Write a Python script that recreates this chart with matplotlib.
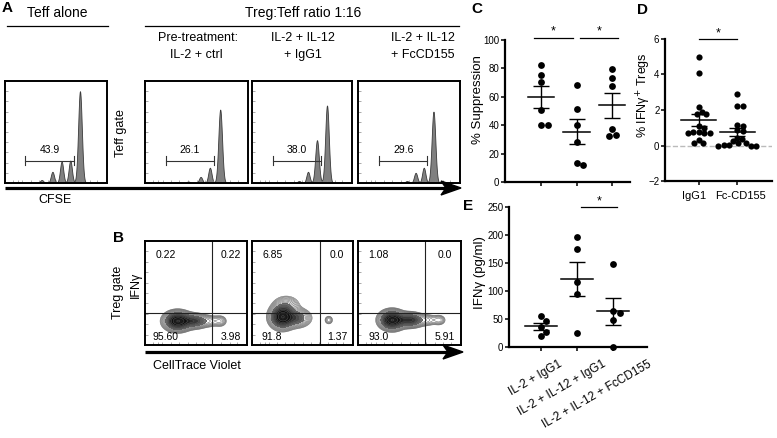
import numpy as np
import matplotlib
matplotlib.use("Agg")
import matplotlib.pyplot as plt
from matplotlib.patches import Polygon
from matplotlib.colors import LinearSegmentedColormap

plt.rcParams['font.family'] = ['Liberation Sans', 'DejaVu Sans']

W, H = 777, 438

# ---- panel A: CFSE histograms (peak position / height as fraction of the box)
hist_gate_pct = ["43.9", "26.1", "38.0", "29.6"]
hist_peak_pos = [[0.735, 0.64, 0.555, 0.465, 0.36],
                 [0.73, 0.63, 0.54, 0.42, 0.30],
                 [0.75, 0.65, 0.56, 0.47],
                 [0.74, 0.645, 0.565, 0.48]]
hist_peak_height = [[0.90, 0.22, 0.21, 0.11, 0.03],
                     [0.72, 0.15, 0.06, 0.015, 0.01],
                     [0.76, 0.42, 0.11, 0.02],
                     [0.70, 0.15, 0.10, 0.02]]
hist_gate = [(0.20, 0.68), (0.20, 0.67), (0.21, 0.69), (0.21, 0.68)]

# ---- panel B: Treg IFNg vs CellTrace Violet contour plots
quad_labels = [["0.22", "0.22", "95.60", "3.98"],
               ["6.85", "0.0", "91.8", "1.37"],
               ["1.08", "0.0", "93.0", "5.91"]]
quad_xcut = [0.66, 0.67, 0.65]
quad_ycut = 0.31
# blobs: (x centre, y centre, x spread, y spread, amplitude)
blob_params = [
    [(0.32, 0.23, 0.065, 0.045, 1.0), (0.48, 0.23, 0.07, 0.035, 0.45), (0.64, 0.23, 0.06, 0.03, 0.12),
     (0.74, 0.23, 0.035, 0.03, 0.1)],
    [(0.30, 0.27, 0.06, 0.055, 1.0), (0.44, 0.26, 0.07, 0.045, 0.35), (0.34, 0.38, 0.07, 0.05, 0.15),
     (0.76, 0.24, 0.025, 0.025, 0.09)],
    [(0.33, 0.24, 0.06, 0.045, 1.0), (0.50, 0.24, 0.07, 0.035, 0.55), (0.67, 0.24, 0.06, 0.03, 0.12),
     (0.79, 0.24, 0.035, 0.028, 0.1)],
]

# ---- panel C: % suppression
supp_il2_ctrl = [82.4, 75.3, 70.1, 50.6, 40.0, 40.0]
supp_il12_igg1 = [68.2, 51.3, 40.0, 28.2, 13.6, 11.8]
supp_il12_fccd155 = [79.3, 73.4, 67.5, 37.6, 33.4, 32.2]

# ---- panel D: % IFNg+ Tregs
ifng_tregs_igg1 = [5.0, 4.1, 2.15, 1.9, 1.8, 1.75, 1.1, 1.0, 0.75, 0.75, 0.7, 0.7, 0.7, 0.3, 0.15, 0.15]
ifng_tregs_fccd155 = [2.9, 2.2, 2.2, 1.15, 1.1, 0.85, 0.8, 0.45, 0.35, 0.25, 0.15, 0.15, 0.05, 0.05, 0.0, 0.0, 0.0]
d_labels = ["IgG1", "Fc-CD155"]

# ---- panel E: IFNg pg/ml
ifng_il2_igg1 = [55.7, 46.8, 35.5, 26.7, 19.0]
ifng_il12_igg1 = [196.7, 174.8, 115.5, 94.2, 24.9]
ifng_il12_fccd155 = [147.5, 63.4, 60.4, 47.4, 0.0]
e_labels = ["IL-2 + IgG1", "IL-2 + IL-12 + IgG1", "IL-2 + IL-12 + FcCD155"]

fig = plt.figure(figsize=(W / 100, H / 100), dpi=100)


def box(l, t, r, b):
    return fig.add_axes([l / W, 1 - b / H, (r - l) / W, (b - t) / H])


def frame(ax):
    ax.set_xlim(0, 1)
    ax.set_ylim(0, 1)
    for s in ax.spines.values():
        s.set_linewidth(1.4)
    ax.set_yticks(np.linspace(0.1, 0.9, 9))
    ax.set_xticks([0.08, 0.13, 0.17, 0.25, 0.33, 0.42, 0.5, 0.58, 0.66, 0.75, 0.83, 0.9])
    ax.tick_params(direction='in', length=2, width=0.5, color='#888888',
                   labelbottom=False, labelleft=False)


# histograms
hist_boxes = [(5, 81, 107, 183), (145, 81, 248, 183), (252, 81, 352, 183), (358, 81, 460, 183)]
xs = np.linspace(0, 1, 600)
for k, (l, t, r, b) in enumerate(hist_boxes):
    ax = box(l, t, r, b)
    frame(ax)
    y = np.zeros_like(xs)
    for p, h in zip(hist_peak_pos[k], hist_peak_height[k]):
        w = 0.018 if h > 0.3 else 0.016
        y += h * np.exp(-0.5 * ((xs - p) / w) ** 2)
    ax.fill_between(xs, 0, y, color='#808080', edgecolor='#3a3a3a', linewidth=0.6)
    g0, g1 = hist_gate[k]
    gy = 0.22
    ax.plot([g0, g1], [gy, gy], color='#333333', lw=0.8)
    ax.plot([g0, g0], [gy - 0.04, gy + 0.04], color='#333333', lw=0.8)
    ax.plot([g1, g1], [gy - 0.04, gy + 0.04], color='#333333', lw=0.8)
    ax.text((g0 + g1) / 2, gy + 0.05, hist_gate_pct[k], ha='center', va='bottom', fontsize=7.5)

# contour plots
core_cmap = LinearSegmentedColormap.from_list("core", ["#7a7a7a", "#333333", "#0e0e0e", "#1e1e1e"])
cont_boxes = [(145, 241, 247, 345), (252, 241, 353, 345), (358, 241, 461, 345)]
gx, gy = np.meshgrid(np.linspace(0, 1, 300), np.linspace(0, 1, 300))
for k, (l, t, r, b) in enumerate(cont_boxes):
    ax = box(l, t, r, b)
    frame(ax)
    z = np.zeros_like(gx)
    for cx, cy, sx, sy, a in blob_params[k]:
        z += a * np.exp(-0.5 * (((gx - cx) / sx) ** 2 + ((gy - cy) / sy) ** 2))
    zmax = z.max()
    lev = np.geomspace(0.03, zmax * 0.98, 16)
    ax.contourf(gx, gy, z, levels=np.linspace(0.2, zmax, 12), cmap=core_cmap)
    ax.contour(gx, gy, z, levels=lev, colors='#555555', linewidths=0.35)
    ax.axvline(quad_xcut[k], color='#222222', lw=0.8)
    ax.axhline(quad_ycut, color='#222222', lw=0.8)
    ql = quad_labels[k]
    ax.text(0.2, 0.87, ql[0], ha='center', va='center', fontsize=7.5)
    ax.text(0.84, 0.87, ql[1], ha='center', va='center', fontsize=7.5)
    ax.text(0.2, 0.08, ql[2], ha='center', va='center', fontsize=7.5)
    ax.text(0.84, 0.08, ql[3], ha='center', va='center', fontsize=7.5)


def swarm(vals, ylim, height_px, d):
    vals = np.asarray(vals, float)
    ypx = (vals - ylim[0]) / (ylim[1] - ylim[0]) * height_px
    cands = [0.0]
    for s in np.arange(0.5, 40, 0.5):
        cands += [s, -s]
    placed = []
    offs = np.zeros(len(vals))
    for k in np.argsort(-vals):
        for c in cands:
            if all((c - ox) ** 2 + (ypx[k] - oy) ** 2 >= d ** 2 for ox, oy in placed):
                break
        placed.append((c, ypx[k]))
        offs[k] = c
    return offs


def dot_panel(ax, groups, ylim, spacing, height, half_mean, cap, dot=6.8, size=24):
    for i, vals in enumerate(groups):
        vals = np.asarray(vals, float)
        offs = swarm(vals, ylim, height, dot)
        ax.scatter(i + offs / spacing, vals, s=size, color='black', linewidths=0, zorder=3, clip_on=False)
        m = vals.mean()
        se = vals.std(ddof=1) / np.sqrt(len(vals))
        ax.plot([i - half_mean, i + half_mean], [m, m], color='black', lw=1.1, zorder=4)
        ax.errorbar(i, m, yerr=se, color='black', lw=1.0, capsize=cap, capthick=1.0, zorder=4)
    ax.set_ylim(*ylim)
    for s in ['top', 'right']:
        ax.spines[s].set_visible(False)
    for s in ['left', 'bottom']:
        ax.spines[s].set_linewidth(1.6)
    ax.tick_params(direction='out', length=3, width=1.1, labelsize=7, pad=1)


# C
axc = box(505, 40, 630, 182)
dot_panel(axc, [supp_il2_ctrl, supp_il12_igg1, supp_il12_fccd155], (0, 100), 35.5, 142, 0.37, 5.5)
axc.set_xlim(-1.01, 2.5)
axc.set_xticks([0, 1, 2])
axc.set_xticklabels([])
axc.set_yticks([0, 20, 40, 60, 80, 100])
for x0, x1 in [(-0.2, 0.9), (1.1, 2.15)]:
    axc.plot([x0, x1], [101.5, 101.5], color='black', lw=0.9, clip_on=False)
    axc.text((x0 + x1) / 2, 101.5, "*", ha='center', va='bottom', fontsize=9)

# D
axd = box(665, 39, 772, 181)
axd.axhline(0, color='#bbbbbb', ls='--', lw=1.0, zorder=0)
dot_panel(axd, [ifng_tregs_igg1, ifng_tregs_fccd155], (-2, 6), 39, 142, 0.45, 6, dot=5.2, size=20)
axd.set_xlim(-0.87, 1.9)
axd.set_xticks([0, 1])
axd.set_xticklabels([])
for i, (lab, dx) in enumerate(zip(d_labels, [-3, 2])):
    axd.annotate(lab, xy=(i, 0), xycoords=('data', 'axes fraction'), xytext=(dx, -7),
                 textcoords='offset points', ha='center', va='top', fontsize=8)
axd.set_yticks([-2, 0, 2, 4, 6])
axd.plot([0.0, 1.0], [6.0, 6.0], color='black', lw=0.9, clip_on=False)
axd.text(0.5, 6.0, "*", ha='center', va='bottom', fontsize=9)

# E
axe = box(509, 207, 647, 347)
dot_panel(axe, [ifng_il2_igg1, ifng_il12_igg1, ifng_il12_fccd155], (0, 250), 36, 140, 0.45, 5.5)
axe.set_xlim(-0.89, 2.94)
axe.set_xticks([0, 1, 2])
axe.set_xticklabels([])
axe.set_yticks([0, 50, 100, 150, 200, 250])
axe.plot([1.1, 2.1], [250, 250], color='black', lw=0.9, clip_on=False)
axe.text(1.6, 250, "*", ha='center', va='bottom', fontsize=9)
for i, (lab, dx) in enumerate(zip(e_labels, [12, 18, 25])):
    axe.annotate(lab, xy=(i, 0), xycoords=('data', 'axes fraction'), xytext=(dx, -8),
                 textcoords='offset points', rotation=30, rotation_mode='anchor',
                 ha='right', va='top', fontsize=8.5)

# overlay in pixel coordinates for headers, arrows and labels
ov = fig.add_axes([0, 0, 1, 1], zorder=10)
ov.set_xlim(0, W)
ov.set_ylim(H, 0)
ov.axis('off')
ov.patch.set_alpha(0)


def txt(x, y, s, **kw):
    kw.setdefault('ha', 'center')
    kw.setdefault('va', 'center')
    ov.text(x, y, s, **kw)


def arrow(x0, x1, y):
    ov.plot([x0, x1 - 12], [y, y], color='black', lw=2.3, solid_capstyle='butt')
    ov.add_patch(Polygon([(x1 - 20, y - 7), (x1, y), (x1 - 20, y + 7), (x1 - 15, y)],
                         closed=True, color='black'))


txt(7, 8, "A", fontsize=11, fontweight='bold')
txt(57, 13, "Teff alone", fontsize=10)
ov.plot([7, 108], [26, 26], color='black', lw=0.9)
txt(303, 13, "Treg:Teff ratio 1:16", fontsize=10)
ov.plot([145, 459], [26, 26], color='black', lw=0.9)
txt(198, 38, "Pre-treatment:", fontsize=9)
txt(196, 55, "IL-2 + ctrl", fontsize=9)
txt(303, 38, "IL-2 + IL-12", fontsize=9)
txt(303, 55, "+ IgG1", fontsize=9)
txt(423, 38, "IL-2 + IL-12", fontsize=9)
txt(423, 55, "+ FcCD155", fontsize=9)
txt(121, 133, "Teff gate", fontsize=9, rotation=90)
arrow(5, 461, 188)
txt(55, 200, "CFSE", fontsize=9)

txt(118, 238, "B", fontsize=11, fontweight='bold')
txt(118, 292, "Treg gate", fontsize=9, rotation=90)
txt(136, 285, "IFNγ", fontsize=9, rotation=90)
arrow(145, 463, 352)
txt(197, 366, "CellTrace Violet", fontsize=9)

txt(477, 9, "C", fontsize=11, fontweight='bold')
txt(478, 100, "% Suppression", fontsize=9.5, rotation=90)
txt(643, 10, "D", fontsize=11, fontweight='bold')
txt(644, 95, "% IFNγ$^{+}$ Tregs", fontsize=9, rotation=90)
txt(468, 206, "E", fontsize=11, fontweight='bold')
txt(480, 273, "IFNγ (pg/ml)", fontsize=9.5, rotation=90)

fig.savefig("out.png", dpi=100)
